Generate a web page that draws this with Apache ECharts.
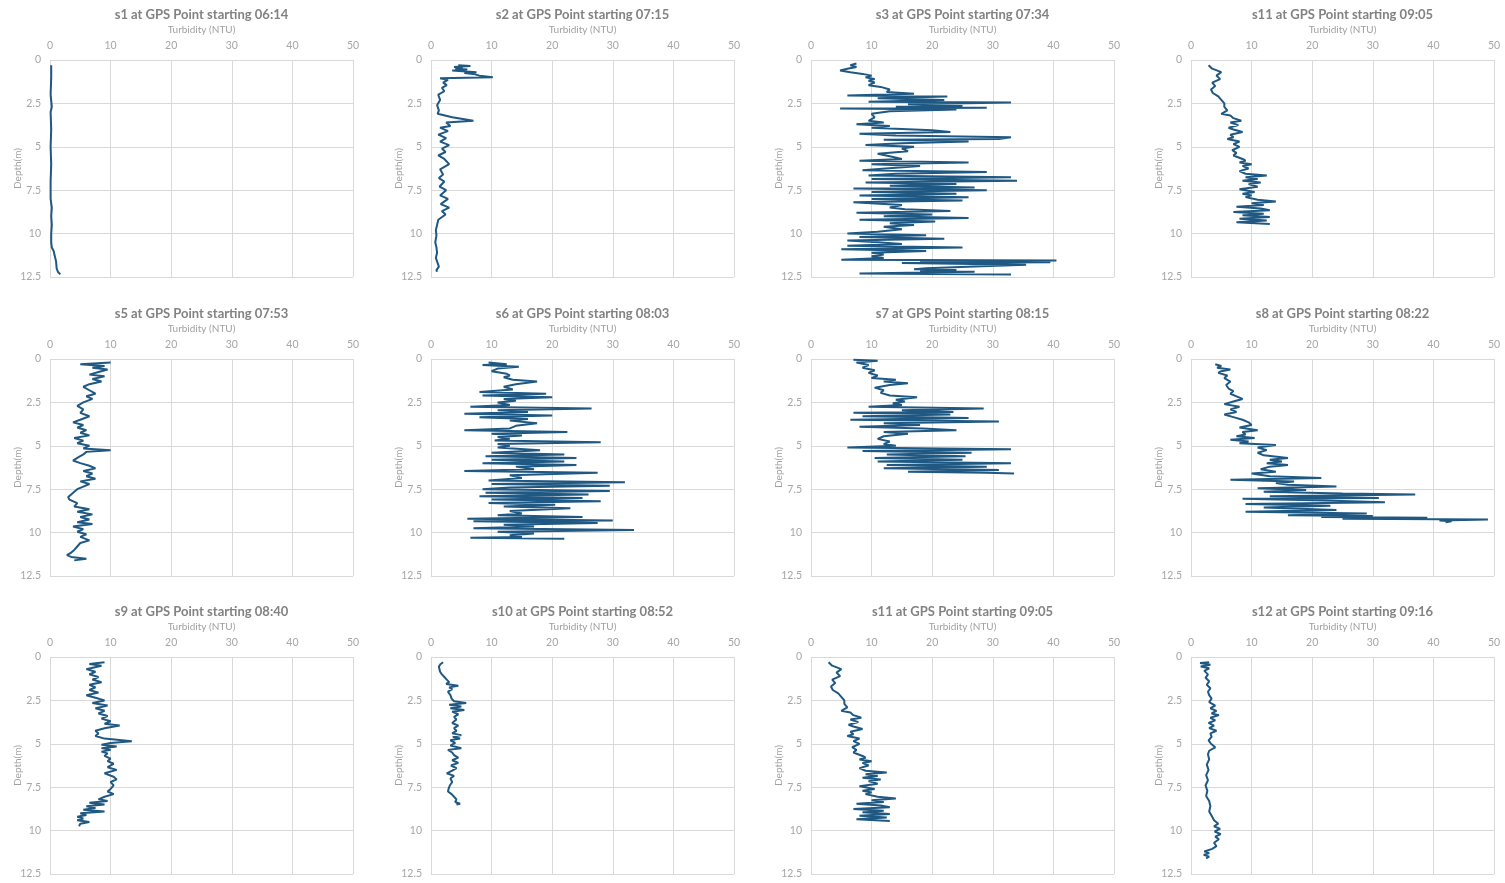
<!DOCTYPE html>
<html>
<head>
<meta charset="utf-8">
<script src="https://cdn.jsdelivr.net/npm/echarts@6/dist/echarts.min.js"></script>
<style>
html,body{margin:0;padding:0;background:#fff;}
#chart{width:1505px;height:883px;}
</style>
</head>
<body>
<div id="chart"></div>
<script>
// ---------- DATA ----------
const xTicks = [0, 10, 20, 30, 40, 50];
const yTicks = [0, 2.5, 5, 7.5, 10, 12.5];

const s1Depth = [0.3,1,2,2.7,3,4,5,6,7,8,8.5,9,9.5,10,10.5,10.8,11,11.3,11.6,12,12.2,12.35];
const s1Turb  = [0.2,0.2,0.1,0.3,0.1,0.2,0.1,0.2,0.1,0.1,0.3,0.2,0.3,0.2,0.2,0.3,0.6,0.8,1.0,1.1,1.3,1.7];

const s2Depth = [0.3,0.35,0.4,0.45,0.5,0.55,0.6,0.7,0.75,0.8,0.9,1.0,1.05,1.15,1.3,1.45,1.6,1.8,2.0,2.3,2.6,2.9,3.1,3.3,3.5,3.6,3.8,3.9,4.1,4.3,4.5,4.7,4.9,5.1,5.3,5.5,5.7,6.0,6.3,6.6,6.8,7.0,7.3,7.5,7.8,8.0,8.3,8.5,8.7,8.9,9.2,9.5,9.8,10.1,10.5,10.8,11.1,11.4,11.7,11.9,12.1,12.2];
const s2Turb  = [4.5,6.5,3.8,5.2,4.0,6.0,3.5,7.5,5.5,7.0,8.0,10.2,1.5,2.8,2.0,2.6,1.8,2.2,1.2,1.5,1.0,1.3,1.1,3.5,7.0,2.5,3.2,1.5,2.8,1.2,2.5,1.5,3.0,1.8,2.4,1.2,2.2,3.0,1.5,2.0,1.3,2.2,1.4,2.5,1.5,2.8,1.6,3.0,1.8,2.4,1.2,1.0,0.8,0.9,0.7,0.9,1.0,0.8,1.1,1.3,0.9,1.0];

const s3Depth = [0.2,0.3,0.4,0.5,0.6,0.7,0.8,0.9,1.0,1.1,1.2,1.3,1.45,1.55,1.7,1.85,1.95,2.05,2.1,2.2,2.3,2.4,2.45,2.55,2.65,2.7,2.75,2.8,2.85,2.95,3.1,3.3,3.5,3.6,3.7,3.8,3.9,4.05,4.15,4.25,4.35,4.45,4.55,4.6,4.7,4.8,4.9,5.0,5.1,5.25,5.4,5.55,5.7,5.8,5.9,6.0,6.1,6.2,6.35,6.45,6.55,6.65,6.75,6.85,6.95,7.05,7.15,7.25,7.35,7.4,7.5,7.6,7.7,7.8,7.9,8.0,8.1,8.2,8.35,8.5,8.6,8.7,8.8,8.9,9.0,9.1,9.2,9.3,9.4,9.5,9.6,9.75,9.9,10.0,10.1,10.2,10.3,10.4,10.5,10.6,10.7,10.8,10.9,11.0,11.1,11.2,11.3,11.4,11.5,11.55,11.6,11.65,11.7,11.8,11.9,12.0,12.05,12.1,12.15,12.2,12.3,12.35];
const s3Turb  = [7.5,6.5,7.5,6,4.8,6.5,8.5,10,9,10.5,9.5,10.5,9.5,11.5,13,12.5,17,6,22.5,11,22,9.5,33,16,25,14,29,4.8,24,13,10,10.5,9.5,12,7.5,13,10,20,23,8,14,33,31,12,26,15,9,17,15,16,11,13,15,8,26,10,18,14,8.5,29,14,9.5,33,10,34,9,24,13,27,7,29,10,24,8,26,10,25,7,15,13,15.5,23,7.5,20,12,26,8,20.5,13,17,12,15,11,6,19,8,22,6,11,15,6,25,5,19,10,12,10,12,5,40.5,18,39.5,15,35.5,27,19,17,24,18,27,8,33];

const s11Depth = [0.3,0.5,0.7,0.9,1.1,1.3,1.5,1.7,1.9,2.1,2.3,2.5,2.7,2.9,3.1,3.2,3.35,3.5,3.6,3.75,3.9,4.0,4.15,4.3,4.45,4.55,4.7,4.85,5.0,5.2,5.35,5.5,5.7,5.8,5.9,6.0,6.1,6.25,6.4,6.55,6.65,6.75,6.85,6.95,7.05,7.15,7.3,7.45,7.6,7.7,7.8,7.9,8.05,8.15,8.25,8.35,8.45,8.55,8.65,8.75,8.85,8.95,9.05,9.15,9.25,9.35,9.45];
const s11Turb  = [2.9,3.5,5.0,4.2,4.8,3.5,4.0,3.3,3.6,4.5,5.0,5.5,5.5,6.0,5.0,6.5,7.0,8.3,6.5,7.8,6.2,7.0,8.5,6.5,7.0,6.0,8.0,7.0,8.0,6.8,7.5,7.0,8.5,9.0,8.0,10.0,8.5,9.5,8.0,9.0,12.5,9.0,11.0,8.5,11.5,9.5,11.0,8.0,10.5,8.5,10.0,9.0,11.0,14.0,10.0,12.0,7.5,11.5,13.0,7.0,12.0,8.5,13.0,8.0,12.5,7.5,13.0];

const s5Depth = [0.2,0.3,0.4,0.5,0.6,0.75,0.9,1.0,1.15,1.3,1.45,1.6,1.8,2.0,2.15,2.3,2.5,2.7,2.9,3.1,3.3,3.5,3.65,3.8,3.95,4.1,4.25,4.4,4.55,4.7,4.85,5.0,5.15,5.25,5.35,5.5,5.7,5.85,6.0,6.15,6.3,6.45,6.6,6.75,6.9,7.05,7.2,7.35,7.5,7.65,7.8,7.95,8.1,8.3,8.5,8.65,8.8,8.95,9.1,9.25,9.4,9.5,9.65,9.8,9.95,10.1,10.25,10.45,10.6,10.8,11.0,11.15,11.3,11.4,11.5,11.6];
const s5Turb  = [10,5,9,7,9.5,8,6.5,9,7,8.5,6.5,5.5,6.5,7.5,6.0,7.0,5.5,4.5,5.5,5.0,6.5,5.0,3.8,5.5,4.5,6.0,5.0,6.5,4.0,5.5,4.5,6.5,5.5,10.0,6.0,5.5,4.5,3.8,5.0,6.5,7.5,5.5,7.0,6.0,7.5,5.0,6.5,5.5,4.5,4.0,3.5,3.0,3.2,4.5,4.0,6.5,4.5,7.0,5.0,6.5,4.5,7.0,3.8,5.5,4.5,6.0,5.0,6.5,5.0,4.5,4.0,3.5,2.8,3.5,6.0,4.0];

const s6Depth = [0.2,0.3,0.35,0.45,0.55,0.7,0.85,0.95,1.05,1.2,1.3,1.45,1.6,1.75,1.9,2.0,2.1,2.2,2.3,2.4,2.5,2.65,2.75,2.85,2.95,3.05,3.15,3.25,3.35,3.45,3.55,3.7,3.85,4.0,4.1,4.2,4.3,4.4,4.5,4.6,4.7,4.8,4.9,5.0,5.1,5.25,5.4,5.5,5.6,5.7,5.8,5.9,6.0,6.1,6.2,6.35,6.45,6.55,6.7,6.85,7.0,7.1,7.2,7.3,7.4,7.5,7.6,7.7,7.8,7.9,8.0,8.1,8.2,8.3,8.4,8.5,8.6,8.75,8.9,9.0,9.1,9.2,9.3,9.35,9.45,9.55,9.65,9.75,9.85,9.95,10.05,10.15,10.25,10.3,10.35];
const s6Turb  = [9.5,12.5,8.5,14.5,11,10,12.5,13,12,13.5,17.5,14,12,13.5,8,19,8.5,20,12,14,11,13,6.5,26.5,11,16,5.5,20,8,16,13,17.5,14,13,5.5,22.5,10,15,11,13,10.5,28,11,13,11,18,10,22,9,24,10,22,8.5,24,14,17,5.5,27.5,13,15,9.5,32,10,29.5,13,8.5,29.5,9,26,8,25,10,28,9.5,20.5,12,23,13,15,11,25,6,30,7,27.5,12,17,7,33.5,11,17,13,15,6.5,22];

const s7Depth = [0.05,0.1,0.2,0.35,0.5,0.65,0.8,0.95,1.1,1.2,1.3,1.4,1.5,1.65,1.8,1.95,2.1,2.2,2.35,2.45,2.55,2.65,2.75,2.85,2.95,3.05,3.1,3.2,3.3,3.4,3.5,3.6,3.7,3.8,3.9,4.0,4.1,4.2,4.3,4.45,4.6,4.75,4.9,5.0,5.1,5.2,5.3,5.4,5.5,5.6,5.7,5.8,5.9,6.0,6.1,6.2,6.3,6.4,6.5,6.55,6.6];
const s7Turb  = [7,11,7.5,9.5,8.5,10.5,9.5,11,10,14,12,16,13,10.5,12,11.5,13,17.5,14,15.5,13.5,15,9.5,28.5,15,23.5,7,23,8.5,26,6.5,31,12,18,8,18.5,24,12,16,12,11,13,12,14,6,33,8.5,26.5,12.5,25.5,10.5,25,11,33,12.5,29,12,31,16,29,33.5];

const s8Depth = [0.3,0.4,0.5,0.6,0.7,0.8,0.95,1.1,1.3,1.5,1.7,1.85,2.0,2.15,2.3,2.45,2.6,2.75,2.9,3.05,3.2,3.35,3.5,3.65,3.8,3.95,4.1,4.2,4.35,4.45,4.55,4.65,4.75,4.85,4.95,5.1,5.25,5.4,5.55,5.7,5.8,5.9,6.0,6.1,6.2,6.35,6.5,6.6,6.75,6.85,6.95,7.05,7.15,7.25,7.35,7.45,7.55,7.65,7.75,7.8,7.9,8.0,8.05,8.15,8.25,8.35,8.45,8.55,8.7,8.8,8.9,9.0,9.05,9.1,9.15,9.2,9.25,9.3,9.35,9.4];
const s8Turb  = [4,5,4.3,6.5,5,4.5,6,5.5,6.5,5.8,6.2,7,6.5,7.5,8.5,7,5.5,8,6.5,7.5,5.5,7,8.5,9.5,10,8,11,8.5,9,7.5,10.5,6.5,9.5,8,14,11,12.5,11,12,16,13,15,12.5,16,13,11.5,14,10,13,21.5,6.5,17,14,16,24,11,19,12,25,37,13,31,8.5,22,32,9,23,12,24,9,29,16,30,21.5,39,25,49,41,43,42];

const s9Depth = [0.3,0.4,0.5,0.7,0.85,1.0,1.15,1.3,1.45,1.6,1.75,1.9,2.05,2.2,2.35,2.5,2.65,2.8,2.95,3.1,3.25,3.4,3.55,3.7,3.85,3.95,4.1,4.25,4.4,4.55,4.7,4.85,4.95,5.05,5.15,5.25,5.35,5.45,5.55,5.7,5.85,6.0,6.15,6.35,6.5,6.7,6.9,7.05,7.2,7.4,7.6,7.75,7.9,8.05,8.2,8.3,8.4,8.5,8.6,8.7,8.8,8.9,9.0,9.1,9.2,9.3,9.4,9.5,9.6,9.75];
const s9Turb  = [9,6.5,8.5,6,7.5,6.5,8,7,8.5,6.5,7.5,6.5,8,6,7.5,9,7,9.5,7.5,9,8,9.5,8.5,10,9,11.5,9,7.5,8,7.5,9,13.5,10,8.5,11,8.5,10,8.5,9.5,9,10,9.5,10.5,9.5,11,9,10.5,11,10,10.5,10,9.5,10.5,9,8,9.5,6.5,9,6,7.5,5.5,9,5,6,4.5,5.5,4.5,6.5,5,4.8];

const s10Depth = [0.3,0.4,0.55,0.7,0.85,1.0,1.15,1.3,1.45,1.55,1.65,1.75,1.85,2.0,2.2,2.4,2.55,2.65,2.75,2.85,2.95,3.05,3.15,3.3,3.45,3.6,3.8,3.95,4.1,4.25,4.4,4.5,4.6,4.7,4.8,4.95,5.1,5.25,5.35,5.5,5.65,5.8,5.95,6.1,6.25,6.4,6.55,6.7,6.85,7.0,7.2,7.4,7.6,7.75,7.9,8.05,8.2,8.35,8.45,8.5];
const s10Turb  = [2,1.6,1.3,1.4,1.5,1.8,2.2,2.6,3,2.5,4.5,3,3.5,2.8,3.2,3.4,3.8,5.8,3,5,3.2,5.5,3.5,4.5,3.8,4.2,3.5,4.5,3.8,4.2,3.5,5,3.6,4.8,3.2,4,3.2,5,2.8,3.5,3.8,4.5,3.5,4.5,3.3,4.2,3.5,2.6,3.8,3.2,3.5,3.1,2.9,2.8,3.4,3.8,4.2,4.0,4.8,4.2];

const s12Depth = [0.3,0.35,0.45,0.55,0.65,0.8,1.0,1.2,1.4,1.6,1.8,2.0,2.2,2.4,2.6,2.8,2.95,3.1,3.25,3.35,3.5,3.65,3.8,3.95,4.1,4.25,4.4,4.6,4.8,5.0,5.2,5.4,5.6,5.9,6.2,6.5,6.8,7.1,7.4,7.7,8.0,8.3,8.6,8.9,9.2,9.4,9.6,9.75,9.9,10.05,10.2,10.35,10.5,10.7,10.9,11.05,11.2,11.3,11.4,11.5,11.6];
const s12Turb  = [3,1.5,3.2,1.6,3,2.2,2.8,2.4,3,2.6,3.2,2.8,3,3.4,3,4,3.2,4.2,3.4,4.6,3.2,4,2.9,3.8,3,4.2,3.2,3.4,2.9,3.3,4,3,2.8,3,2.6,2.9,2.5,2.8,2.4,2.7,2.5,3,3.2,3,3.5,3.8,4.5,3.8,4.8,3.9,4.9,4,4.6,3.8,4.2,3.5,2.2,3,2.1,3,2.5];

// panel order (row by row)
const panelTitles = [
  "s1 at GPS Point starting 06:14", "s2 at GPS Point starting 07:15", "s3 at GPS Point starting 07:34", "s11 at GPS Point starting 09:05",
  "s5 at GPS Point starting 07:53", "s6 at GPS Point starting 08:03", "s7 at GPS Point starting 08:15", "s8 at GPS Point starting 08:22",
  "s9 at GPS Point starting 08:40", "s10 at GPS Point starting 08:52", "s11 at GPS Point starting 09:05", "s12 at GPS Point starting 09:16"
];
const panelDepths = [s1Depth, s2Depth, s3Depth, s11Depth, s5Depth, s6Depth, s7Depth, s8Depth, s9Depth, s10Depth, s11Depth, s12Depth];
const panelTurbs  = [s1Turb, s2Turb, s3Turb, s11Turb, s5Turb, s6Turb, s7Turb, s8Turb, s9Turb, s10Turb, s11Turb, s12Turb];
const xName = "Turbidity (NTU)";
const yName = "Depth(m)";

// ---------- LAYOUT ----------
const colLeft = [50, 431, 811, 1191];
const rowTop = [60, 359, 657];
const gridW = 303, gridH = 217;
const FONT = 'Lato, "Open Sans", sans-serif';
const lineColor = '#1f5882';

const grids = [], xAxes = [], yAxes = [], series = [], titles = [];
for (let i = 0; i < 12; i++) {
  const r = Math.floor(i / 4), c = i % 4;
  const left = colLeft[c], top = rowTop[r];
  grids.push({left: left, top: top, width: gridW, height: gridH, containLabel: false});
  titles.push({
    text: panelTitles[i], left: left + gridW / 2, top: top - 52, textAlign: 'center', padding: 0,
    textStyle: {fontFamily: FONT, fontSize: 13, fontWeight: 'bold', color: '#828282'}
  });
  xAxes.push({
    gridIndex: i, type: 'value', position: 'top', min: xTicks[0], max: xTicks[xTicks.length - 1],
    interval: xTicks[1] - xTicks[0],
    name: xName, nameLocation: 'middle', nameGap: 25, nameMoveOverlap: false,
    nameTextStyle: {fontFamily: FONT, fontSize: 10, color: '#a0a0a0'},
    axisLine: {show: false}, axisTick: {show: false},
    axisLabel: {margin: 9, fontFamily: FONT, fontSize: 10.5, color: '#a6a6a6'},
    splitLine: {show: true, lineStyle: {color: '#d9d9d9', width: 1}}
  });
  yAxes.push({
    gridIndex: i, type: 'value', inverse: true, min: yTicks[0], max: yTicks[yTicks.length - 1],
    interval: yTicks[1] - yTicks[0],
    name: yName, nameLocation: 'middle', nameGap: 27, nameRotate: 90, nameMoveOverlap: false,
    nameTextStyle: {fontFamily: FONT, fontSize: 10, color: '#a0a0a0'},
    axisLine: {show: false}, axisTick: {show: false},
    axisLabel: {margin: 9, fontFamily: FONT, fontSize: 10.5, color: '#a6a6a6'},
    splitLine: {show: true, lineStyle: {color: '#d9d9d9', width: 1}}
  });
  const d = panelDepths[i], t = panelTurbs[i];
  const pts = d.map((dep, k) => [t[k], dep]);
  series.push({
    type: 'line', xAxisIndex: i, yAxisIndex: i, data: pts, showSymbol: false, symbol: 'none',
    lineStyle: {color: lineColor, width: 2}, animation: false, silent: true
  });
}

const chart = echarts.init(document.getElementById('chart'), null, {renderer: 'canvas'});
chart.setOption({
  backgroundColor: '#ffffff',
  animation: false,
  title: titles,
  grid: grids,
  xAxis: xAxes,
  yAxis: yAxes,
  series: series
});
</script>
</body>
</html>
